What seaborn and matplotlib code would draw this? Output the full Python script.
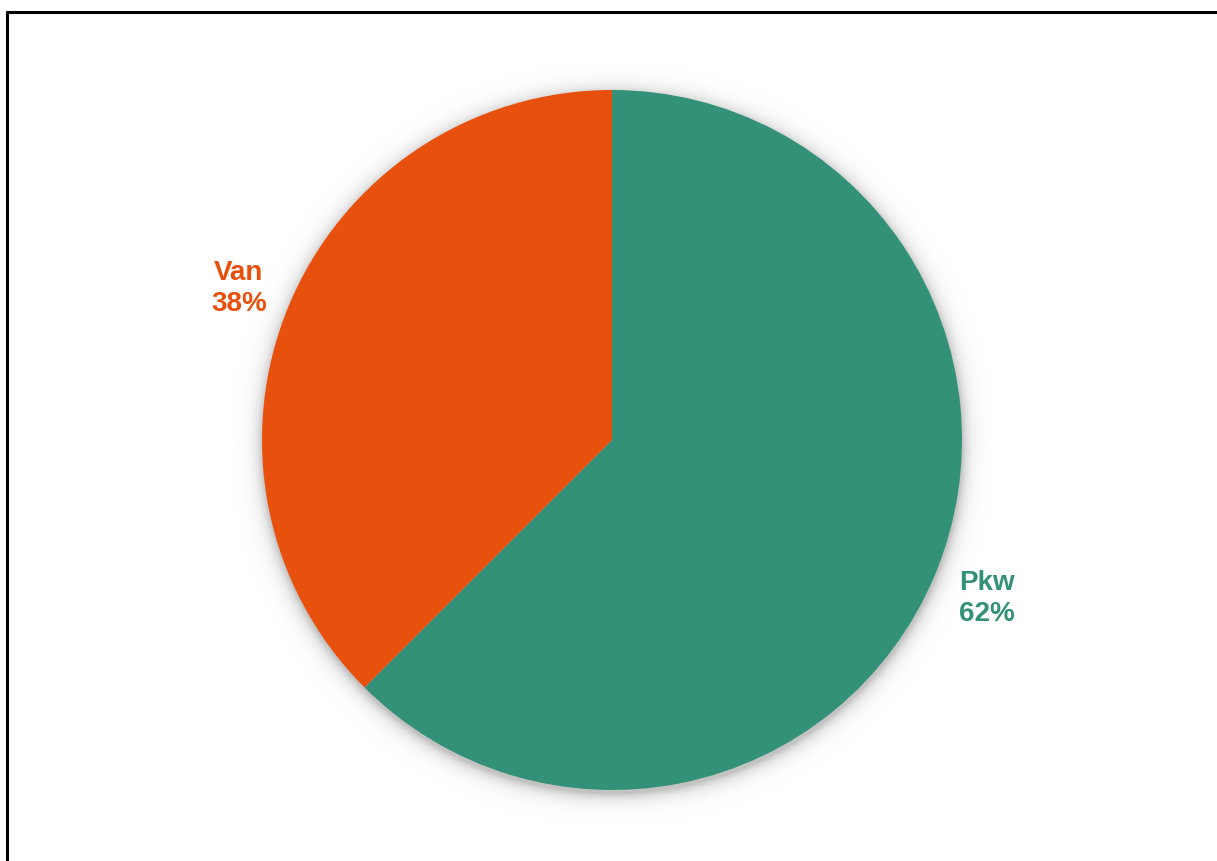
import numpy as np
import matplotlib
matplotlib.use("Agg")
import matplotlib.pyplot as plt
import matplotlib.transforms as mtransforms
import seaborn as sns

categories = ["Pkw", "Van"]
shares = [62.5, 37.5]
colors = ["#339178", "#E8500E"]

sns.set_theme(style="white")
plt.rcParams['font.family'] = ['Liberation Sans', 'DejaVu Sans']

W, H = 1217, 861
fig = plt.figure(figsize=(W / 100, H / 100), dpi=100)
ax = fig.add_axes([0, 0, 1, 1])

cx, cy, R = 612, H - 440, 350

# soft shadow under the pie
yy, xx = np.mgrid[0:H, 0:W]
d = np.hypot(xx - cx, (H - yy) - (cy - 3)) - R
alpha = np.clip(0.42 * np.exp(-np.clip(d, 0, None) / 7.0), 0, 0.42)
alpha[d < 0] = 0.42
img = np.zeros((H, W, 4))
img[..., :3] = 0.45
img[..., 3] = alpha
ax.imshow(img, extent=(0, W, 0, H), origin="upper", zorder=0, interpolation="bilinear")

labels = [f"{c}\n{v:.0f}%" for c, v in zip(categories, shares)]
wedges, texts = ax.pie(shares, labels=labels, colors=colors, startangle=90,
                       counterclock=False, center=(cx, cy), radius=R,
                       labeldistance=1.157, wedgeprops=dict(linewidth=0),
                       frame=True)
for w in wedges:
    w.set_zorder(2)
shift = mtransforms.offset_copy(ax.transData, fig=fig, x=1, y=-3.5, units="dots")
for t, c in zip(texts, colors):
    t.set_transform(shift)
    t.set_ha("center")
    t.set_va("center")
    t.set_color(c)
    t.set_fontweight("bold")
    t.set_fontsize(20)
    t.set_linespacing(1.25)

ax.set_xlim(0, W)
ax.set_ylim(0, H)
ax.set_aspect("equal")
ax.axis("off")

# frame lines (left and top)
fig.add_artist(plt.Line2D([6.5 / W, 6.5 / W], [0, 1 - 11.5 / H], color="black", lw=2.2,
                          transform=fig.transFigure))
fig.add_artist(plt.Line2D([6.5 / W, 1], [1 - 11.5 / H, 1 - 11.5 / H], color="black", lw=2.2,
                          transform=fig.transFigure))

fig.savefig("out.png", dpi=100)
